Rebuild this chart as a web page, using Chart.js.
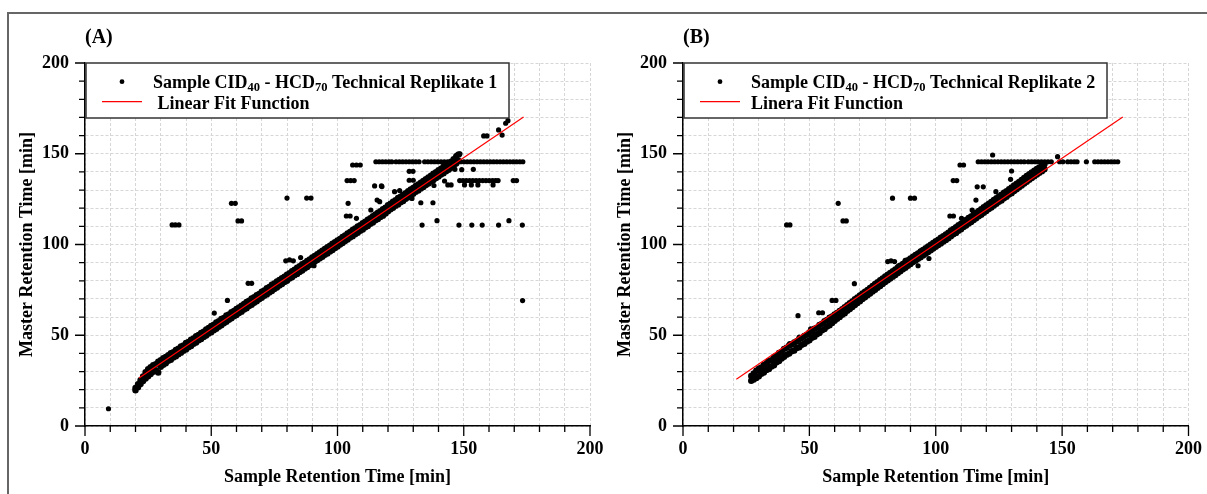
<!DOCTYPE html>
<html>
<head>
<meta charset="utf-8">
<script src="https://cdn.jsdelivr.net/npm/chart.js@4.4.0/dist/chart.umd.min.js"></script>
<style>
  body { margin: 0; width: 1207px; height: 494px; background: #fff; position: relative; overflow: hidden; }
  #frame { position: absolute; left: 7px; top: 12px; width: 1220px; height: 500px; border-top: 2px solid #666; border-left: 2px solid #666; }
  .box { position: absolute; top: 14px; height: 480px; }
</style>
</head>
<body>
<div id="frame"></div>
<div class="box" style="left:8px;width:620px"><canvas id="chartA" width="620" height="480"></canvas></div>
<div class="box" style="left:600px;width:607px"><canvas id="chartB" width="607" height="480"></canvas></div>
<script>
// ---- panel A: replicate 1 ----
const bandAX = [20,21,22,23,24,25,26,27,28,29,
  30,31,32,33,34,35,36,37,38,39, 40,41,42,43,44,45,46,47,48,49,
  50,51,52,53,54,55,56,57,58,59, 60,61,62,63,64,65,66,67,68,69,
  70,71,72,73,74,75,76,77,78,79, 80,81,82,83,84,85,86,87,88,89,
  90,91,92,93,94,95,96,97,98,99, 100,101,102,103,104,105,106,107,108,109,
  110,111,112,113,114,115,116,117,118,119, 120,121,122,123,124,125,126,127,128,129,
  130,131,132,133,134,135,136,137,138,139, 140,141,142,143,144,145,146,147,148];
const bandAHi = [21.0,23.0,25.2,27.3,29.6,31.3,32.4,33.5,34.1,35.4,
  36.2,37.3,38.1,39.0,40.1,40.7,41.9,42.6,43.8,44.4,
  45.7,46.3,47.6,48.3,49.5,50.1,51.3,52.0,53.2,54.0,
  55.1,55.8,57.0,57.7,59.0,59.6,60.9,61.5,62.7,63.4,
  64.5,65.3,66.3,67.2,68.3,69.0,70.3,70.9,72.1,72.8,
  74.0,74.7,75.9,76.6,77.8,78.5,79.6,80.4,81.5,82.3,
  83.4,84.2,85.3,86.1,87.2,88.0,89.1,89.9,91.0,91.8,
  92.9,93.7,94.7,95.6,96.6,97.5,98.5,99.4,100.4,101.3,
  102.3,103.1,104.2,105.0,106.1,106.9,108.0,108.8,109.9,110.7,
  111.8,112.6,113.7,114.5,115.6,116.5,117.5,118.3,119.4,120.3,
  121.6,122.5,123.6,124.4,125.6,126.3,127.4,128.3,129.3,130.3,
  131.2,132.2,133.1,134.1,135.0,136.0,137.0,137.9,139.0,139.8,
  141.0,141.8,142.8,143.7,144.8,145.6,147.0,148.5,149.6];
const bandALo = [19.7,21.4,23.1,24.8,26.2,27.4,28.6,29.9,30.8,29.5,
  32.6,33.7,34.6,35.9,36.5,37.8,38.4,39.6,40.4,41.5,
  42.2,43.4,44.1,45.3,46.0,47.2,47.9,49.1,49.8,51.0,
  51.7,52.8,53.6,54.7,55.5,56.6,57.4,58.5,59.3,60.4,
  61.1,62.3,63.0,64.2,64.9,66.1,66.8,67.9,68.7,69.8,
  70.6,71.7,72.5,73.6,74.4,75.5,76.3,77.4,78.2,79.3,
  80.0,81.2,81.9,83.1,83.8,84.9,85.7,86.8,87.6,88.7,
  89.5,90.6,91.4,92.4,93.2,94.3,95.1,96.2,97.0,98.1,
  98.9,100.0,100.8,101.9,102.7,103.8,104.6,105.7,106.5,107.6,
  108.3,109.5,110.2,111.4,112.1,113.3,114.0,115.2,115.9,117.1,
  118.3,119.4,120.2,121.4,122.1,123.3,124.0,125.2,126.0,127.1,
  127.9,129.0,129.8,130.9,131.7,132.8,133.6,134.7,135.5,136.6,
  137.4,138.5,139.3,140.4,141.2,142.3,143.4,144.6,146.0];
const outAX = [9.3, 34.5,35.8,37.2, 58,59.5, 60.6,62, 80,87.8,89.5, 64.6,66, 56.4,51.2,
  79.5,81,82.5,85.4,90.7, 104.2,103.5,105,107.5,113.2, 114.7,117.4,115.7,116.7,124.6,
  128.4,129.9,128.4,130,129.5, 133,137.8,138.2,139.4,
  133.5,148.1,153.2,157.3,163.8,173.2,167.9, 173.3, 117.6,122.6,
  142.4,143.7,145,150.3,153,155.6,161.6, 146.5,149.2,153.8,
  106,107.5,109, 103.8,105.2,106.6,
  157.9,159.2,163.8,165.2,166.6,167.5, 147.2,148.5];
const outAY = [9.5, 110.8,110.8,110.8, 122.7,122.7, 113,113, 125.6,125.6,125.6, 78.6,78.6, 69.2,62.2,
  91,91.5,91,92.8,88.3, 122.7,115.7,115.7,114.4,119, 132.3,132.3,124.5,123.6,129.7,
  140.3,140.3,135.4,135.4,125.4, 123,123,132.5,113.1,
  110.7,110.7,110.7,110.7,110.7,110.7,113.1, 69.1, 131.9,129.1,
  135,132.8,132.8,132.8,132.8,132.8,132.8, 141.4,141.2,141.4,
  143.8,143.8,143.8, 135.2,135.2,135.2,
  159.8,159.8,163.1,160.3,166.8,168.2, 149.2,150];
const rowA146X = [115.2,116.5,117.8,119.1,120.4,121.5, 123.2,124.5,125.8,127.1,128.4,129.7,131.0,132.3,
  134.5,135.8,137.1,138.4,139.7,141.0,142.3,143.6,144.9,146.2,147.5,148.8,150.1,151.4,152.7,
  154.0,155.3,156.6,157.9,159.2,160.5,161.8,163.1,164.4,165.7,167.0,168.3,169.6,170.9,172.2,173.4];
const rowA146Y = 145.6;
const rowA135X = [148.4,149.7,151.0,152.3,153.6,154.9,156.2,157.5,158.8,160.1,161.4,162.6,163.6,169.6,170.9];
const rowA135Y = 135.2;
const fitAX = [21.4, 173.7];
const fitAY = [26.4, 170.2];

// ---- panel B: replicate 2 ----
const bandBX = [27,28,29,
  30,31,32,33,34,35,36,37,38,39, 40,41,42,43,44,45,46,47,48,49,
  50,51,52,53,54,55,56,57,58,59, 60,61,62,63,64,65,66,67,68,69,
  70,71,72,73,74,75,76,77,78,79, 80,81,82,83,84,85,86,87,88,89,
  90,91,92,93,94,95,96,97,98,99, 100,101,102,103,104,105,106,107,108,109,
  110,111,112,113,114,115,116,117,118,119, 120,121,122,123,124,125,126,127,128,129,
  130,131,132,133,134,135,136,137,138,139, 140,141,142,143];
const bandBHi = [27.6,28.9,30.4,
  31.6,32.2,33.7,34.3,35.9,36.3,37.9,38.6,40.2,40.9,
  42.5,43.1,44.4,44.9,46.0,46.7,47.9,48.5,49.6,50.3,
  51.5,52.2,53.6,54.2,55.7,56.3,57.8,58.4,59.7,60.4,
  61.4,62.3,63.4,64.3,65.4,66.6,67.6,68.6,69.8,70.8,
  71.9,73.0,74.0,75.0,76.1,77.1,78.2,79.2,80.3,81.3,
  82.4,83.3,84.3,85.3,86.3,87.3,88.3,89.3,90.3,91.3,
  92.3,93.3,94.2,95.1,96.1,97.0,98.0,98.9,99.9,100.8,
  101.8,102.7,103.7,104.6,105.6,106.5,107.7,108.6,109.5,110.6,
  111.5,112.6,113.5,114.6,115.5,116.5,117.5,118.5,119.5,120.5,
  121.5,122.5,123.5,124.5,125.5,126.5,127.4,128.5,129.4,130.5,
  131.4,132.5,133.5,134.5,135.6,136.6,137.7,138.7,139.7,140.6,
  141.6,142.5,143.5,144.2];
const bandBLo = [24.9,25.6,26.5,
  27.4,28.8,29.5,30.9,31.4,32.8,33.5,35.1,35.8,37.2,
  38.1,39.3,39.9,41.2,41.6,43.0,43.4,44.8,45.3,46.5,
  47.2,48.6,49.2,50.6,51.3,52.7,53.4,54.8,55.5,56.8,
  58.0,59.1,60.1,61.3,62.1,63.5,64.4,65.6,66.6,67.8,
  68.8,70.0,70.9,72.0,73.0,74.1,75.1,76.2,77.2,78.3,
  79.3,80.3,81.2,82.3,83.2,84.3,85.2,86.3,87.2,88.3,
  89.2,90.3,91.1,92.1,93.0,94.0,94.9,95.9,96.8,97.8,
  98.7,99.7,100.6,101.6,102.5,103.5,104.6,105.6,106.4,107.6,
  108.4,109.6,110.4,111.6,112.4,113.5,114.4,115.5,116.4,117.5,
  118.4,119.5,120.4,121.5,122.4,123.5,124.3,125.5,126.3,127.5,
  128.3,129.5,130.4,131.5,132.5,133.6,134.6,135.7,136.6,137.6,
  138.5,139.5,140.4,141.5];
const outBX = [41,42.3, 61.4, 63.3,64.6, 82.9,90,91.6, 45.5, 59,60.5, 53.7,55.2, 67.8,
  81,82.3,83.7,85.3,87.9,93,93.9,97.3,78.7,
  109.6,111, 106.9,108.3, 116.4,118.8, 130,129.6, 115.9,123.8, 105.6,107,110.2,114.4,
  122.5,148.2, 33.5,36,38.2,42.2,46,50.5];
const outBY = [110.8,110.8, 122.7, 113,113, 125.5,125.5,125.5, 60.8, 69.2,69.2, 62.4,62.4, 78.4,
  90.6,91,90.6,88.3,91.2,88.3,96.5,92.3,81,
  143.8,143.8, 135.2,135.2, 131.8,131.8, 140.5,135.9, 124.5,129.1, 115.7,115.7,114.4,119,
  149.3,148.4, 35.6,38.5,40.2,45.4,49,53.5];
const rowB146X = [116.8,118.1,119.4,120.7,122.0,123.3,124.6,125.9,127.2,128.5,129.8,131.1,132.4,133.7,135.0,
  136.6,137.9,139.2,140.5,141.8, 143.1,144.4,145.7, 149.0,150.3, 152.2,153.5,154.8,155.9, 159.6,
  162.9,164.2,165.5,166.8,168.1,169.4,170.7,172.0];
const rowB146Y = 145.6;
const fitBX = [21.1, 174.0];
const fitBY = [25.7, 170.2];

const SERIF = '"Liberation Serif", "Times New Roman", serif';
const pts = (xs, ys) => xs.map((x, i) => ({x: x, y: Array.isArray(ys) ? ys[i] : ys}));

const panelPlugin = {
  id: 'panel',
  afterDraw(chart, args, opts) {
    const {ctx, chartArea: a, scales: {x, y}} = chart;
    ctx.save();
    // major / minor tick marks
    ctx.strokeStyle = '#000';
    ctx.lineWidth = 1.3;
    ctx.beginPath();
    x.ticks.forEach(t => {
      const p = x.getPixelForValue(t.value);
      const len = Math.round(t.value) % 50 === 0 ? 10 : 6;
      ctx.moveTo(p, a.bottom); ctx.lineTo(p, a.bottom + len);
    });
    y.ticks.forEach(t => {
      const p = y.getPixelForValue(t.value);
      const len = Math.round(t.value) % 50 === 0 ? 10 : 6;
      ctx.moveTo(a.left, p); ctx.lineTo(a.left - len, p);
    });
    ctx.stroke();

    // panel letter
    ctx.fillStyle = '#000';
    ctx.font = 'bold 20px ' + SERIF;
    ctx.textBaseline = 'middle';
    ctx.textAlign = 'left';
    ctx.fillText(opts.label, a.left, 24);

    // legend box
    const bx = a.left + 1, by = a.top, bw = 423, bh = 55;
    ctx.fillStyle = '#fff';
    ctx.fillRect(bx, by, bw, bh);
    ctx.strokeStyle = '#333';
    ctx.lineWidth = 1.5;
    ctx.strokeRect(bx, by, bw, bh);
    ctx.fillStyle = '#000';
    ctx.beginPath();
    ctx.arc(bx + 36, by + 18.7, 2.4, 0, Math.PI * 2);
    ctx.fill();
    ctx.strokeStyle = '#ff0000';
    ctx.lineWidth = 1.2;
    ctx.beginPath();
    ctx.moveTo(bx + 16, by + 38.7); ctx.lineTo(bx + 56, by + 38.7);
    ctx.stroke();

    ctx.textBaseline = 'alphabetic';
    const drawRich = (parts, x0, y0) => {
      let cx = x0;
      parts.forEach(p => {
        ctx.font = p.sub ? 'bold 12.5px ' + SERIF : 'bold 18px ' + SERIF;
        ctx.fillText(p.t, cx, p.sub ? y0 + 3 : y0);
        cx += ctx.measureText(p.t).width;
      });
    };
    ctx.fillStyle = '#000';
    drawRich(opts.scatterLabel, bx + 67, by + 24.5);
    drawRich(opts.fitLabel, bx + 67, by + 45.5);
    ctx.restore();
  }
};

function makeChart(id, band, hi, lo, outX, outY, rows, fitX, fitY, panel, padL, padR) {
  const bandPts = pts(band, hi).concat(pts(band, lo));
  const loose = pts(outX, outY);
  rows.forEach(r => { loose.push(...pts(r.x, r.y)); });
  const tickFont = {family: SERIF, size: 18, weight: 'bold'};
  return new Chart(document.getElementById(id), {
    type: 'scatter',
    data: {
      datasets: [
        {type: 'line', data: pts(fitX, fitY), borderColor: '#ff0000', borderWidth: 1.2,
         pointRadius: 0, fill: false, order: 0},
        {data: bandPts, backgroundColor: '#000', borderWidth: 0, pointRadius: 3.2, order: 1},
        {data: loose, backgroundColor: '#000', borderWidth: 0, pointRadius: 2.6, order: 2}
      ]
    },
    options: {
      responsive: false,
      animation: false,
      events: [],
      layout: {padding: {left: padL, right: padR, top: 49, bottom: 0}},
      plugins: {legend: {display: false}, tooltip: {enabled: false}, panel: panel},
      scales: {
        x: {
          type: 'linear', min: 0, max: 200,
          afterFit(s) { s.height = 68; s.paddingLeft = 0; s.paddingRight = 0; },
          ticks: {stepSize: 10, autoSkip: false, maxRotation: 0, padding: 13, color: '#000', font: tickFont,
                  callback: v => Math.round(v) % 50 === 0 ? v : ''},
          grid: {color: '#d6d6d6', lineWidth: 1, drawTicks: false},
          border: {color: '#000', width: 1.5, dash: [3, 2]},
          title: {display: true, text: 'Sample Retention Time [min]', color: '#000', font: tickFont,
                  padding: {top: 0, bottom: 6}}
        },
        y: {
          type: 'linear', min: 0, max: 200,
          afterFit(s) { s.width = 77; s.paddingTop = 0; s.paddingBottom = 0; },
          ticks: {stepSize: 10, autoSkip: false, padding: 16, color: '#000', font: tickFont,
                  callback: v => Math.round(v) % 50 === 0 ? v : ''},
          grid: {color: '#d6d6d6', lineWidth: 1, drawTicks: false},
          border: {color: '#000', width: 1.5, dash: [3, 2]},
          title: {display: true, text: 'Master Retention Time [min]', color: '#000', font: tickFont,
                  padding: {top: 9, bottom: 0}}
        }
      }
    },
    plugins: [panelPlugin]
  });
}

makeChart('chartA', bandAX, bandAHi, bandALo, outAX, outAY,
  [{x: rowA146X, y: rowA146Y}, {x: rowA135X, y: rowA135Y}], fitAX, fitAY,
  {label: '(A)',
   scatterLabel: [{t: 'Sample CID'}, {t: '40', sub: true}, {t: ' - HCD'}, {t: '70', sub: true}, {t: ' Technical Replikate 1'}],
   fitLabel: [{t: ' Linear Fit Function'}]},
  0, 38);

makeChart('chartB', bandBX, bandBHi, bandBLo, outBX, outBY,
  [{x: rowB146X, y: rowB146Y}], fitBX, fitBY,
  {label: '(B)',
   scatterLabel: [{t: 'Sample CID'}, {t: '40', sub: true}, {t: ' - HCD'}, {t: '70', sub: true}, {t: ' Technical Replikate 2'}],
   fitLabel: [{t: 'Linera Fit Function'}]},
  6, 18.5);
</script>
</body>
</html>
